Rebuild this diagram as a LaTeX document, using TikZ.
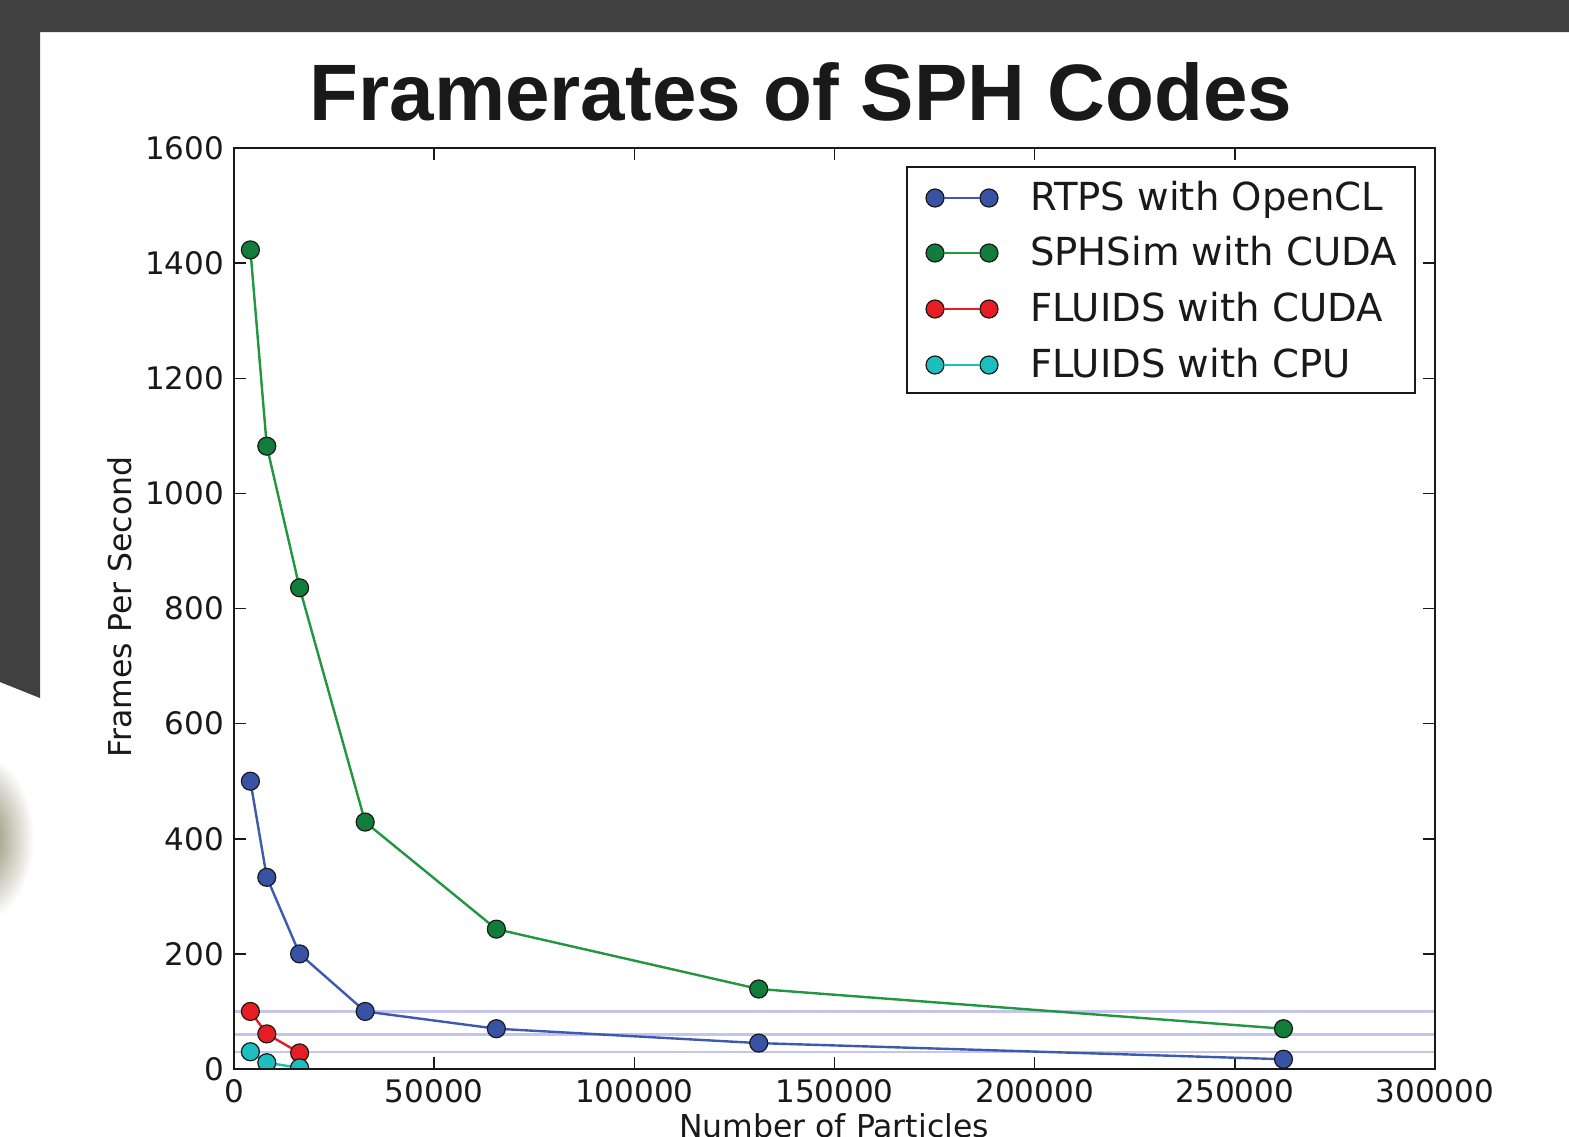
\documentclass[tikz,border=0pt]{standalone}
\usepackage{fontspec}
\setmainfont{DejaVu Sans}
\newfontfamily\titlefont{Liberation Sans}
\definecolor{bgdark}{RGB}{64,64,64}
\definecolor{olivedark}{RGB}{125,123,88}
\definecolor{mblue}{RGB}{57,83,164}
\definecolor{mblueline}{RGB}{62,90,175}
\definecolor{mgreen}{RGB}{18,125,58}
\definecolor{mgreenline}{RGB}{35,150,65}
\definecolor{mred}{RGB}{230,30,36}
\definecolor{mcyan}{RGB}{28,190,190}
\definecolor{guidecol}{RGB}{196,196,236}
\definecolor{inkcol}{RGB}{25,25,25}
\begin{document}
\begin{tikzpicture}[x=1pt,y=-1pt,
  every node/.style={inner sep=0pt, outer sep=0pt},
  ticklbl/.style={font=\fontsize{31}{31}\selectfont, text=inkcol},
  axlbl/.style={font=\fontsize{31.5}{31.5}\selectfont, text=inkcol},
  leglbl/.style={font=\fontsize{38.6}{38.6}\selectfont, text=inkcol, anchor=base west},
  mk/.style={circle, draw=inkcol, line width=1.2pt, minimum size=18pt, inner sep=0pt},
  ser/.style={line width=2.4pt},
  frameline/.style={line width=2.5pt, draw=inkcol},
  tickline/.style={line width=1.5pt, draw=inkcol},
  guide/.style={line width=2.2pt, draw=guidecol},
]
\useasboundingbox (0,0) rectangle (1569,1136);
\clip (0,0) rectangle (1569,1136);
\fill[white] (0,0) rectangle (1569,1136);
% background of the slide
\shade[inner color=olivedark, outer color=white] (-20,838) ellipse [x radius=54, y radius=84];
\fill[bgdark] (0,0) -- (1569,0) -- (1569,32) -- (40,32) -- (40,698) -- (0,682) -- cycle;

% title
\node[font=\titlefont\bfseries\fontsize{80}{80}\selectfont, text=inkcol, anchor=base] (title) at (801,120) {Framerates of SPH Codes};

% axis labels
\node[axlbl, rotate=90, anchor=base] (ylabel) at (131,607) {Frames Per Second};
\node[axlbl, anchor=base] (xlabel) at (834,1137) {Number of Particles};

% data area
\begin{scope}[shift={(234,1069)}, x=4.003333pt, y=0.575625pt]
  \coordinate (ll) at (0,0);
  \coordinate (ur) at (300,1600);
  % guide lines
  \foreach \v in {100,60,30} {
    \coordinate (gl\v) at (0,\v);
    \coordinate (gr\v) at (300,\v);
    \draw[guide] (gl\v) -- (gr\v);
  }
  % ticks and tick labels
  \foreach \t/\lbl in {0/0,50/50000,100/100000,150/150000,200/200000,250/250000,300/300000} {
    \coordinate (xb\t) at (\t,0);
    \coordinate (xt\t) at (\t,1600);
    \draw[tickline] (xb\t) -- ++(0,12pt);
    \draw[tickline] (xt\t) -- ++(0,-12pt);
    \node[ticklbl, anchor=base] (xl\t) at ([yshift=-33pt]xb\t) {\lbl};
  }
  \foreach \v in {0,200,...,1600} {
    \coordinate (yl\v) at (0,\v);
    \coordinate (yr\v) at (300,\v);
    \draw[tickline] (yl\v) -- ++(12pt,0);
    \draw[tickline] (yr\v) -- ++(-12pt,0);
    \node[ticklbl, anchor=east] (ylb\v) at ([xshift=-10pt]yl\v) {\v};
  }
  % series
  \begin{scope}
    \clip (ll) rectangle (ur);
    % RTPS with OpenCL
    \foreach \i/\xx/\yy in {1/4.096/500,2/8.192/333,3/16.384/200,4/32.768/100,5/65.536/70,6/131.072/45,7/262.144/17}
      \coordinate (r\i) at (\xx,\yy);
    \draw[ser, mblueline] (r1) -- (r2) -- (r3) -- (r4) -- (r5) -- (r6) -- (r7);
    \foreach \i in {1,...,7} \node[mk, fill=mblue] (rm\i) at (r\i) {};
    % SPHSim with CUDA
    \foreach \i/\xx/\yy in {1/4.096/1423,2/8.192/1082,3/16.384/836,4/32.768/429,5/65.536/243,6/131.072/139,7/262.144/70}
      \coordinate (s\i) at (\xx,\yy);
    \draw[ser, mgreenline] (s1) -- (s2) -- (s3) -- (s4) -- (s5) -- (s6) -- (s7);
    \foreach \i in {1,...,7} \node[mk, fill=mgreen] (sm\i) at (s\i) {};
    % FLUIDS with CUDA
    \foreach \i/\xx/\yy in {1/4.096/100,2/8.192/61,3/16.384/28}
      \coordinate (f\i) at (\xx,\yy);
    \draw[ser, mred] (f1) -- (f2) -- (f3);
    \foreach \i in {1,...,3} \node[mk, fill=mred] (fm\i) at (f\i) {};
    % FLUIDS with CPU
    \foreach \i/\xx/\yy in {1/4.096/30,2/8.192/11,3/16.384/2}
      \coordinate (c\i) at (\xx,\yy);
    \draw[ser, mcyan] (c1) -- (c2) -- (c3);
    \foreach \i in {1,...,3} \node[mk, fill=mcyan] (cm\i) at (c\i) {};
  \end{scope}
  \draw[frameline] (ll) rectangle (ur);
\end{scope}

% legend
\node[draw=inkcol, line width=2pt, fill=white, minimum width=508pt, minimum height=226pt, anchor=north west] (legend) at (907,167) {};
\foreach \i/\yy/\col/\lcol/\txt in {1/198/mblue/mblueline/RTPS with OpenCL,2/253/mgreen/mgreenline/SPHSim with CUDA,3/309/mred/mred/FLUIDS with CUDA,4/365/mcyan/mcyan/FLUIDS with CPU} {
  \node[mk, fill=\col] (la\i) at (935,\yy) {};
  \node[mk, fill=\col] (lb\i) at (989,\yy) {};
  \draw[ser, \lcol] (la\i) -- (lb\i);
  \node[leglbl] (lt\i) at (1030,\yy+12) {\txt};
}
\end{tikzpicture}
\end{document}
